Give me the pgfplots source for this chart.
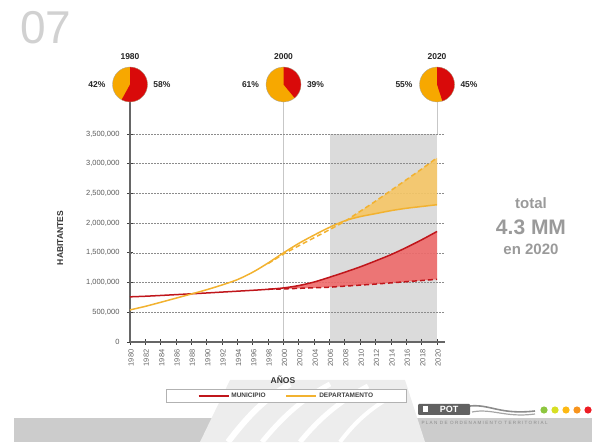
\documentclass[border=0pt]{standalone}
\usepackage{fontspec}
\setmainfont{Liberation Sans}
\newfontfamily\spaced[LetterSpace=28]{Liberation Sans}
\usepackage{pgfplots}
\pgfplotsset{compat=1.18}
\usepgfplotslibrary{fillbetween}
\usetikzlibrary{calc}
\definecolor{munred}{HTML}{C0161B}
\definecolor{munfill}{HTML}{EE6A6A}
\definecolor{depyel}{HTML}{F2B230}
\definecolor{depfill}{HTML}{F6C766}
\definecolor{piered}{HTML}{D90A0A}
\definecolor{pieorange}{HTML}{F7A800}
\definecolor{txtgray}{HTML}{9A9A9A}

\pgfplotstableread{
year pop
1980 760000
1982 770000
1984 783000
1986 797000
1988 811000
1990 825000
1992 840000
1994 855000
1996 870000
1998 887000
2000 910000
2002 950000
2004 1010000
2006 1090000
2008 1175000
2010 1265000
2012 1365000
2014 1470000
2016 1590000
2018 1720000
2020 1860000
}\munsolid
\pgfplotstableread{
year pop
1998 887000
2000 893000
2002 903000
2004 912000
2006 922000
2008 940000
2010 957000
2012 975000
2014 995000
2016 1015000
2018 1035000
2020 1055000
}\mundash
\pgfplotstableread{
year pop
1980 540000
1982 600000
1984 668000
1986 738000
1988 808000
1990 880000
1992 960000
1994 1050000
1996 1175000
1998 1330000
2000 1500000
2002 1660000
2004 1800000
2006 1930000
2008 2040000
2010 2110000
2012 2160000
2014 2210000
2016 2250000
2018 2280000
2020 2310000
}\depsolid
\pgfplotstableread{
year pop
1998 1320000
2000 1480000
2002 1620000
2004 1755000
2006 1890000
2008 2030000
2010 2200000
2012 2370000
2014 2550000
2016 2730000
2018 2910000
2020 3100000
}\depdash

\begin{document}
\begin{tikzpicture}
\begin{scope}[x=1pt,y=1pt]
\path (0,0) rectangle (592,442);
% bottom decoration
\fill[black!20] (14,0) rectangle (592,24);
\fill[black!7] (200,0) -- (230,62) -- (405,62) -- (425,0) -- cycle;
\draw[white, line width=6pt] (228,0) .. controls (245,22) and (262,42) .. (290,58);
\draw[white, line width=5pt] (262,0) .. controls (280,22) and (300,42) .. (330,58);
\draw[white, line width=5pt] (300,0) .. controls (318,22) and (338,40) .. (368,56);
\draw[white, line width=4pt] (340,0) .. controls (355,20) and (372,36) .. (400,50);
% logo
\fill[black!62, rounded corners=1pt] (418,27) rectangle (470,38);
\node[white, font=\bfseries\fontsize{9}{9}\selectfont] at (449,32.5) {POT};
\fill[white] (423,30) rectangle (428,35.5);
\draw[black!45, line width=1.6pt] (470,36) .. controls (490,38) and (500,27) .. (535,31);
\draw[black!35, line width=1.2pt] (472,30) .. controls (492,34) and (505,24) .. (535,28);
\definecolor{dA}{HTML}{8DC63F}\fill[dA] (544,32) circle (3.6);
\definecolor{dB}{HTML}{D7DF23}\fill[dB] (555,32) circle (3.6);
\definecolor{dC}{HTML}{FDB913}\fill[dC] (566,32) circle (3.6);
\definecolor{dD}{HTML}{F7941D}\fill[dD] (577,32) circle (3.6);
\definecolor{dE}{HTML}{ED1C24}\fill[dE] (588,32) circle (3.6);
\node[font=\spaced\fontsize{4.6}{5}\selectfont, text=black!45, anchor=west] at (418,19.5) {PLAN DE ORDENAMIENTO TERRITORIAL};
% title number
\node[font=\fontsize{46}{46}\selectfont, text=black!18, anchor=west, inner sep=0] at (20,414) {07};
% total text
\node[font=\bfseries\fontsize{15}{15}\selectfont, text=txtgray] at (531,239) {total};
\node[font=\bfseries\fontsize{21}{21}\selectfont, text=txtgray] at (531,215) {4.3 MM};
\node[font=\bfseries\fontsize{15}{15}\selectfont, text=txtgray] at (531,193) {en 2020};
\end{scope}

\begin{axis}[
  at={(130pt,100pt)}, anchor=south west,
  scale only axis, width=314.7pt, height=208pt,
  set layers, clip=false,
  xmin=1980, xmax=2021, ymin=0, ymax=3500000,
  axis x line*=bottom, axis y line*=left,
  axis line style={draw=black!60, line width=1.3pt},
  xtick={1980,1982,...,2020},
  minor x tick num=1,
  ytick={0,500000,1000000,1500000,2000000,2500000,3000000,3500000},
  yticklabels={0,{500,000},{1,000,000},{1,500,000},{2,000,000},{2,500,000},{3,000,000},{3,500,000}},
  scaled y ticks=false,
  /pgf/number format/assume math mode=true,
  /pgf/number format/1000 sep={},
  tick align=center,
  major tick length=6pt, minor tick length=6pt,
  tick style={draw=black!75, line width=0.9pt},
  xticklabel style={rotate=90, anchor=east, font=\fontsize{7.5}{8}\selectfont, text=black!60, yshift=-1pt, xshift=-1pt},
  yticklabel style={font=\fontsize{7.5}{8}\selectfont, text=black!65, xshift=-4pt},
  ymajorgrids,
  grid style={draw=black!45, dash pattern=on 1.8pt off 1.2pt, line width=0.6pt},
  xlabel={AÑOS},
  xlabel style={at={(axis description cs:0.486,-0.183)}, anchor=center, font=\bfseries\fontsize{8.5}{9}\selectfont, text=black!80},
  ylabel={HABITANTES},
  ylabel style={at={(axis description cs:-0.222,0.5)}, anchor=center, font=\bfseries\fontsize{8.5}{9}\selectfont, text=black!80},
  legend style={at={(0.497,-0.26)}, anchor=center, draw=black!30, line width=0.6pt,
    legend columns=2, font=\bfseries\fontsize{6.5}{7}\selectfont, text=black!75,
    inner xsep=31pt, inner ysep=1.5pt,
    /tikz/every even column/.append style={column sep=18pt}},
  legend image code/.code={\draw[#1] (0pt,0pt) -- (30pt,0pt);},
]
% shaded projection region
\addplot[fill=black!14, draw=none, forget plot, on layer=axis background]
  coordinates {(2006,0) (2006,3500000) (2020,3500000) (2020,0)};
% reference lines up to the pies
\addplot[draw=black!22, line width=0.9pt, forget plot, on layer=axis background]
  coordinates {(2000,0) (2000,4040000)};
\addplot[draw=white, line width=0.9pt, forget plot, on layer=axis background]
  coordinates {(2020,0) (2020,3500000)};
\addplot[draw=black!22, line width=0.9pt, forget plot, on layer=axis background]
  coordinates {(2020,3500000) (2020,4040000)};
\addplot[draw=black!60, line width=1.3pt, forget plot]
  coordinates {(1980,3500000) (1980,4040000)};
% hidden boundary paths for the filled gaps
\addplot[name path=msA, draw=none, smooth, forget plot, restrict x to domain=2000:2020] table[x=year,y=pop] {\munsolid};
\addplot[name path=mdA, draw=none, forget plot, restrict x to domain=2000:2020] table[x=year,y=pop] {\mundash};
\addplot[name path=dsA, draw=none, smooth, forget plot, restrict x to domain=2008:2020] table[x=year,y=pop] {\depsolid};
\addplot[name path=ddA, draw=none, forget plot, restrict x to domain=2008:2020] table[x=year,y=pop] {\depdash};
\addplot[fill=munfill, fill opacity=0.9, draw=none, forget plot] fill between[of=msA and mdA];
\addplot[fill=depfill, fill opacity=0.9, draw=none, forget plot] fill between[of=dsA and ddA];
% series
\addplot[draw=munred, line width=1.5pt, smooth, forget plot] table[x=year,y=pop] {\munsolid};
\addplot[draw=munred, line width=1.5pt, dash pattern=on 5pt off 3pt, forget plot] table[x=year,y=pop] {\mundash};
\addplot[draw=depyel, line width=1.5pt, smooth, forget plot] table[x=year,y=pop] {\depsolid};
\addplot[draw=depyel, line width=1.5pt, dash pattern=on 5pt off 3pt, forget plot] table[x=year,y=pop] {\depdash};
\addlegendimage{draw=munred, line width=1.6pt}
\addlegendentry{MUNICIPIO}
\addlegendimage{draw=depyel, line width=1.6pt}
\addlegendentry{DEPARTAMENTO}
\coordinate (T1) at (axis cs:1980,3500000);
\coordinate (T2) at (axis cs:2000,3500000);
\coordinate (T3) at (axis cs:2020,3500000);
\end{axis}

% pies
\begin{scope}[x=1pt,y=1pt]
\foreach \T/\yr/\p/\lt/\rt in {T1/1980/58/42/58, T2/2000/39/61/39, T3/2020/45/55/45}{
  \path (\T) ++(0,49.5) coordinate (C);
  \fill[pieorange] (C) circle (17.5);
  \pgfmathsetmacro{\ea}{90-3.6*\p}
  \fill[piered] (C) -- ++(90:17.5) arc[start angle=90, end angle=\ea, radius=17.5] -- cycle;
  \draw[black!35, line width=0.3pt] (C) circle (17.5);
  \node[font=\bfseries\fontsize{8.5}{9}\selectfont, text=black!85] at ($(C)+(0,27.5)$) {\yr};
  \node[font=\bfseries\fontsize{8.5}{9}\selectfont, text=black!85] at ($(C)+(-33,0)$) {\lt\%};
  \node[font=\bfseries\fontsize{8.5}{9}\selectfont, text=black!85] at ($(C)+(32,0)$) {\rt\%};
}
\pgfresetboundingbox
\path[use as bounding box] (0,0) rectangle (592,442);
\end{scope}
\end{tikzpicture}
\end{document}
